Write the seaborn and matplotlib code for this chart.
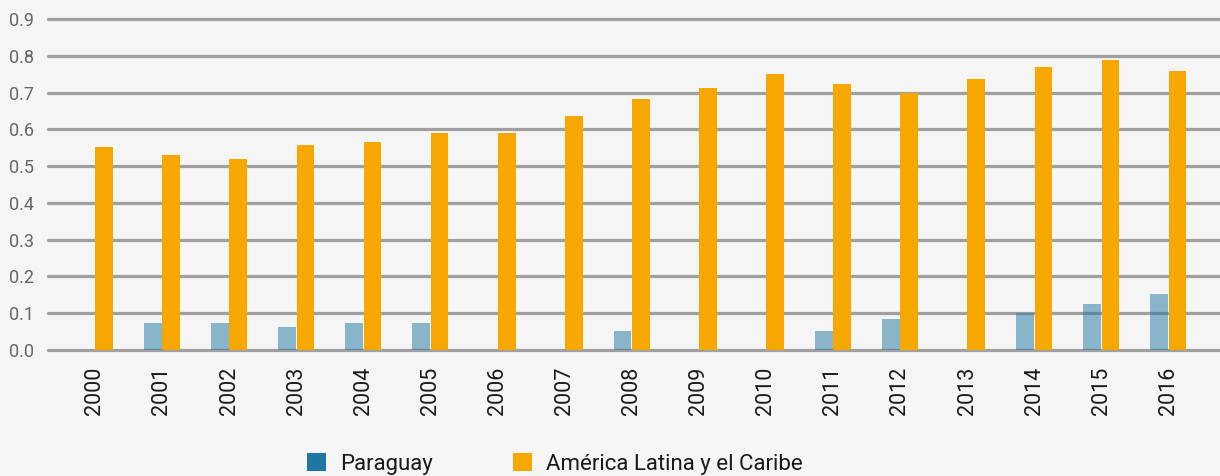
import matplotlib
matplotlib.use("Agg")
import matplotlib.pyplot as plt
import seaborn as sns
import numpy as np
import pandas as pd
from matplotlib.patches import Patch

years = [str(y) for y in range(2000, 2017)]
paraguay = [np.nan, 0.074, 0.074, 0.062, 0.074, 0.074, np.nan, np.nan, 0.052,
            np.nan, np.nan, 0.052, 0.084, np.nan, 0.10, 0.125, 0.152]
alc = [0.552, 0.53, 0.52, 0.557, 0.565, 0.59, 0.59, 0.636, 0.682,
       0.712, 0.75, 0.723, 0.698, 0.736, 0.769, 0.788, 0.758]
series_names = ["Paraguay", "América Latina y el Caribe"]
yticks = [0.0, 0.1, 0.2, 0.3, 0.4, 0.5, 0.6, 0.7, 0.8, 0.9]

blue = "#1f76a3"
orange = "#f6a800"

df = pd.DataFrame({
    "year": years * 2,
    "value": paraguay + alc,
    "series": [series_names[0]] * len(years) + [series_names[1]] * len(years),
})

sns.set_theme(style="white")
plt.rcParams["font.family"] = ["Roboto", "DejaVu Sans"]

fig = plt.figure(figsize=(12.2, 4.76), dpi=100, facecolor="#f5f5f5")
ax = fig.add_axes([0.0393, 0.265, 0.9607, 0.695])
ax.set_facecolor("#f5f5f5")

sns.barplot(data=df, x="year", y="value", hue="series", order=years,
            hue_order=series_names, palette=[blue, orange], width=0.55,
            gap=0.04, saturation=1, legend=False, ax=ax, errorbar=None,
            linewidth=0, edgecolor="none")

for p in ax.containers[0]:
    p.set_alpha(0.5)
    p.set_zorder(3)
    p.set_linewidth(0)
for p in ax.containers[1]:
    p.set_zorder(4)
    p.set_linewidth(0)

ax.set_ylim(0, 0.9)
ax.set_xlim(-0.7, 16.77)
ax.set_yticks(yticks)
ax.set_yticklabels([f"{v:.1f}" for v in yticks])
ax.yaxis.grid(True, color="#a0a0a0", linewidth=2.3, zorder=2)
ax.set_axisbelow(False)
for gl in ax.get_ygridlines():
    gl.set_zorder(2)
    gl.set_clip_on(False)
ax.xaxis.grid(False)
for s in ax.spines.values():
    s.set_visible(False)
ax.set_xlabel("")
ax.set_ylabel("")
ax.tick_params(axis="y", length=0, pad=10, labelsize=13, labelcolor="#666666")
ax.tick_params(axis="x", length=0, pad=12, labelsize=15.5, labelcolor="#1a1a1a",
               rotation=90)

handles = [Patch(facecolor=blue, edgecolor="none"), Patch(facecolor=orange, edgecolor="none")]
fig.legend(handles, series_names, loc="center", bbox_to_anchor=(0.455, 0.025),
           ncol=2, frameon=False, fontsize=16, handlelength=0.85, handleheight=0.85,
           handletextpad=0.65, columnspacing=3.6, labelcolor="#1a1a1a")

fig.savefig("out.png", dpi=100, facecolor="#f5f5f5")
